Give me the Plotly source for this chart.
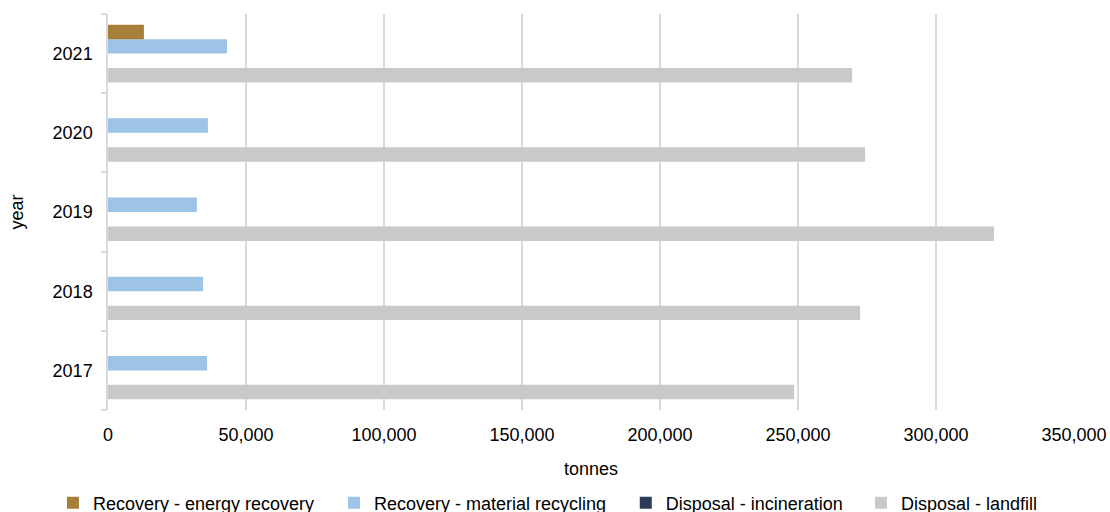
import plotly.graph_objects as go

years = ["2017", "2018", "2019", "2020", "2021"]
energy_recovery = [0, 0, 0, 0, 13000]
material_recycling = [35900, 34400, 32200, 36200, 43100]
incineration = [0, 0, 0, 0, 0]
landfill = [248600, 272500, 321000, 274300, 269600]

series = [
    ("Recovery - energy recovery", energy_recovery, "#a67f3b", "legend", -0.057),
    ("Recovery - material recycling", material_recycling, "#9dc3e6", "legend2", 0.234),
    ("Disposal - incineration", incineration, "#2c3b5a", "legend3", 0.536),
    ("Disposal - landfill", landfill, "#c9c9c9", "legend4", 0.7795),
]

fig = go.Figure()
# horizontal grouped bars stack upward from the first trace, so add in reverse
for name, vals, color, leg, _ in reversed(series):
    fig.add_trace(go.Bar(
        y=years, x=vals, name=name, orientation="h",
        marker=dict(color=color, line=dict(width=0)),
        legend=leg,
    ))

font_family = "Liberation Sans, Arial, sans-serif"
layout_legends = {}
for name, vals, color, leg, xpos in series:
    layout_legends[leg] = dict(
        x=xpos, y=0.0176, yref="container", xanchor="left", yanchor="middle",
        orientation="h", itemwidth=30,
        font=dict(family=font_family, size=18, color="#000000"),
        bgcolor="rgba(0,0,0,0)",
    )

fig.update_layout(
    width=1110, height=512,
    margin=dict(l=108, r=36, t=14, b=102, autoexpand=False),
    paper_bgcolor="white", plot_bgcolor="white",
    barmode="group", bargap=0.27, bargroupgap=0,
    font=dict(family=font_family, size=18, color="#000000"),
    showlegend=True,
    xaxis=dict(
        range=[0, 350000], dtick=50000, tickformat=",d",
        showgrid=True, gridcolor="#d9d9d9", gridwidth=1.5,
        zeroline=False, showline=False,
        ticks="", ticklabelstandoff=12,
        title=dict(text="tonnes", standoff=18, font=dict(size=18)),
        tickfont=dict(size=18), automargin=False,
    ),
    yaxis=dict(
        categoryorder="array", categoryarray=years,
        showline=True, linecolor="#d9d9d9", linewidth=1.5,
        ticks="outside", ticklen=5, tickcolor="#d9d9d9", tickwidth=1.5,
        tickson="boundaries", ticklabelstandoff=10,
        title=dict(text="year", standoff=24, font=dict(size=18)),
        tickfont=dict(size=18), showgrid=False, zeroline=False,
        automargin=False,
    ),
    **layout_legends,
)

fig.write_html("out.html")
